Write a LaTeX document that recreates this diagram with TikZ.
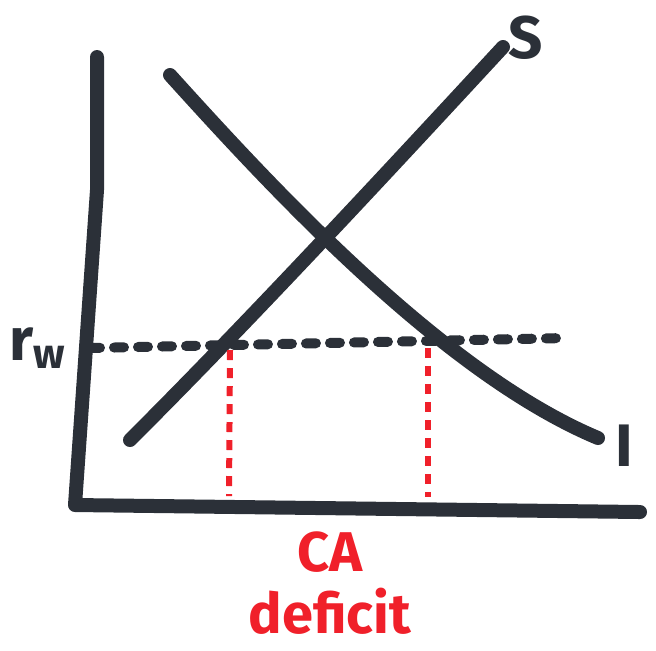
\documentclass[tikz,border=0pt]{standalone}
\usepackage{fontspec}
\setsansfont{Fira Sans}
\usetikzlibrary{positioning}

\begin{document}
\begin{tikzpicture}[
    x=0.5pt, y=-0.5pt,
    marker/.style={line width=7pt, color=inkgray, line cap=round, line join=round},
    worldrate/.style={line width=5pt, color=inkgray, line cap=round, dash pattern=on 5pt off 7pt},
    gapline/.style={line width=3pt, color=inkred, dash pattern=on 5pt off 4pt},
    curvelabel/.style={font=\sffamily\bfseries\fontsize{30}{30}\selectfont, text=inkgray, inner sep=0pt},
    redlabel/.style={font=\sffamily\bfseries\fontsize{28}{31}\selectfont, text=inkred, align=center, inner sep=0pt}
]
\definecolor{inkgray}{HTML}{2B3038}
\definecolor{inkred}{HTML}{F0202A}

\useasboundingbox (0,0) rectangle (656,650);

% Axes
\coordinate (ytop) at (97,57);
\coordinate (origin) at (75,505);
\coordinate (xend) at (640,512);
\draw[marker] (ytop) -- (97,190) -- (origin) -- (xend);

% Saving curve
\coordinate (s0) at (130,440);
\coordinate (s1) at (503,47);
\draw[marker] (s0) .. controls (250,320) and (380,180) .. (s1);
\node[curvelabel] (S) at (526,38) {S};

% Investment curve
\coordinate (i0) at (170,75);
\coordinate (i1) at (598,438);
\draw[marker] (i0) .. controls (265,180) and (440,372) .. (i1);
\node[curvelabel] (I) at (624,446) {I};

% World interest rate
\node[curvelabel] (rw) at (38,348) {r\textsubscript{w}};
\coordinate (w0) at (90,348);
\coordinate (w1) at (566,338);
\draw[worldrate] (w0) -- (w1);

% Gap between S and I at r_w
\coordinate (gs) at (230,350);
\coordinate (gi) at (428,348);
\draw[gapline] (gs) -- (229,496);
\draw[gapline] (gi) -- (428,497);

% Label
\node[redlabel] (ca) at (330,583) {CA\\deficit};

\end{tikzpicture}
\end{document}
